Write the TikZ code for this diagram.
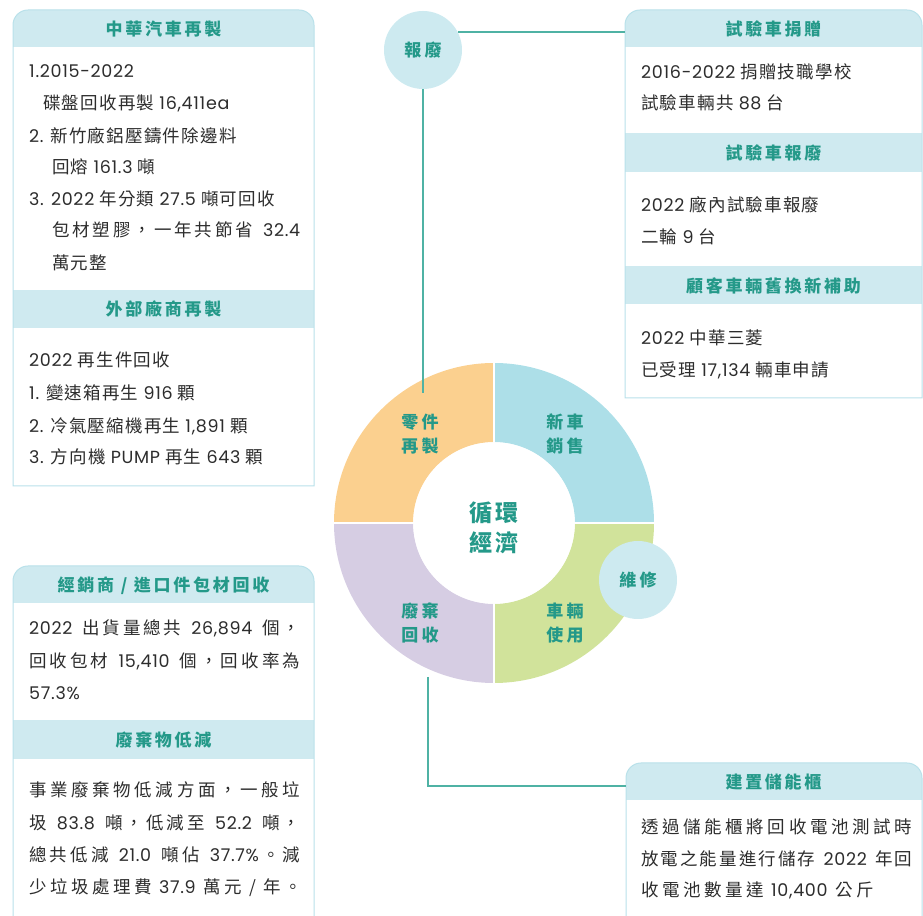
\documentclass[tikz,border=0pt]{standalone}
\usepackage{fontspec}
\setmainfont{Noto Sans CJK TC}
\newfontfamily\bodyfnt[LetterSpace=7]{Noto Sans CJK TC}
\newfontfamily\widefnt[LetterSpace=20]{Noto Sans CJK TC}
\newfontfamily\hdrfnt[LetterSpace=16]{Noto Sans CJK TC}
\newfontfamily\ringfnt[LetterSpace=18]{Noto Sans CJK TC}
\newfontfamily\centfnt[LetterSpace=15]{Noto Sans CJK TC}
\newfontfamily\latfnt[Scale=1.0,Numbers=Monospaced,LetterSpace=4]{Poppins}
\newcommand\lt[1]{{\latfnt #1}}
\newcommand\gap{\hskip 4pt}
% justified line: tokens separated by \hfil
\def\jline#1#2{\hbox to #1{\rmfamily\jA#2\relax}}
\def\jA#1{\ifx\relax#1\else#1\expandafter\jB\fi}
\def\jB#1{\ifx\relax#1\else\hfil#1\expandafter\jB\fi}
\definecolor{tealtxt}{RGB}{36,153,137}
\definecolor{bodytxt}{RGB}{45,45,45}
\definecolor{hdrfill}{RGB}{207,234,240}
\definecolor{boxline}{RGB}{185,225,234}
\definecolor{conn}{RGB}{79,178,164}
\definecolor{segorange}{RGB}{251,208,143}
\definecolor{segblue}{RGB}{173,223,232}
\definecolor{seggreen}{RGB}{209,227,155}
\definecolor{seglav}{RGB}{214,205,227}
\definecolor{circfill}{RGB}{205,234,240}
\tikzset{
  body/.style={anchor=west, inner sep=0pt, text=bodytxt, font={\bodyfnt\fontsize{17.5}{20}\selectfont}, text height=13.3pt, text depth=0pt},
  bodyw/.style={body, font={\widefnt\fontsize{17.5}{20}\selectfont}},
  hdr/.style={inner sep=0pt, text=tealtxt, font={\hdrfnt\bfseries\fontsize{17}{20}\selectfont}, text height=13pt, text depth=0pt},
  ringlbl/.style={inner sep=0pt, text=tealtxt, align=center, font={\ringfnt\bfseries\fontsize{17}{24}\selectfont}},
  centlbl/.style={inner sep=0pt, text=tealtxt, align=center, font={\centfnt\bfseries\fontsize{23}{30}\selectfont}},
  bubble/.style={circle, fill=circfill, minimum size=78pt, inner sep=0pt, text=tealtxt, font={\ringfnt\bfseries\fontsize{17}{20}\selectfont}},
  hdrband/.style={fill=hdrfill},
  boxedge/.style={draw=boxline, line width=1pt},
  connector/.style={draw=conn, line width=1.5pt},
  sep/.style={draw=white, line width=2.5pt}
}
\begin{document}
\begin{tikzpicture}[x=1pt,y=1pt]
\useasboundingbox (0,0) rectangle (923,915);
% ---------- donut ----------
\fill[segblue] (654,392) arc[start angle=0,end angle=90,radius=160] -- (494,473) arc[start angle=90,end angle=0,radius=81] -- cycle;
\fill[segorange] (494,552) arc[start angle=90,end angle=180,radius=160] -- (413,392) arc[start angle=180,end angle=90,radius=81] -- cycle;
\fill[seglav] (334,392) arc[start angle=180,end angle=270,radius=160] -- (494,311) arc[start angle=270,end angle=180,radius=81] -- cycle;
\fill[seggreen] (494,232) arc[start angle=270,end angle=360,radius=160] -- (575,392) arc[start angle=360,end angle=270,radius=81] -- cycle;
\draw[sep] (333,392) -- (655,392);
\draw[sep] (494,231) -- (494,553);
\fill[white] (494,392) circle[radius=80.5];
\node[centlbl] (center) at (494,387) {循環\\經濟};
\node[ringlbl] (parts) at (420,481) {零件\\再製};
\node[ringlbl] (sales) at (565,481) {新車\\銷售};
\node[ringlbl] (waste) at (420,292) {廢棄\\回收};
\node[ringlbl] (use) at (565,292) {車輛\\使用};
\node[bubble] (repair) at (638,335) {維修};
\node[bubble] (scrap) at (423,865) {報廢};
% ---------- top-left box ----------
\fill[white] (13,429) -- (13,890) arc[start angle=180,end angle=90,radius=15] -- (299,905) arc[start angle=90,end angle=0,radius=15] -- (314,429) -- cycle;
\fill[hdrband] (13,868) -- (13,890) arc[start angle=180,end angle=90,radius=15] -- (299,905) arc[start angle=90,end angle=0,radius=15] -- (314,868) -- cycle;
\fill[hdrband] (13,587) rectangle (314,625);
\draw[boxedge] (13,429) -- (13,890) arc[start angle=180,end angle=90,radius=15] -- (299,905) arc[start angle=90,end angle=0,radius=15] -- (314,429) -- cycle;
\node[hdr] (h1) at (163.5,886) {中華汽車再製};
\node[body] (t11) at (29,844) {\lt{1.2015-2022}};
\node[body] (t12) at (43,812) {碟盤回收再製 \lt{16,411ea}};
\node[body] (t13) at (29,779) {\lt{2.} 新竹廠鋁壓鑄件除邊料};
\node[body] (t14) at (52,748) {回熔 \lt{161.3} 噸};
\node[body] (t15) at (29,716) {\lt{3. 2022} 年分類 \lt{27.5} 噸可回收};
\node[body] (t16) at (52,685) {\jline{248pt}{包材塑膠，一年共節省\gap{\lt{32.4}}}};
\node[body] (t17) at (52,652) {萬元整};
\node[hdr] (h2) at (163.5,606) {外部廠商再製};
\node[body] (t21) at (29,555) {\lt{2022} 再生件回收};
\node[body] (t22) at (29,522) {\lt{1.} 變速箱再生 \lt{916} 顆};
\node[body] (t23) at (29,489) {\lt{2.} 冷氣壓縮機再生 \lt{1,891} 顆};
\node[body] (t24) at (29,458) {\lt{3.} 方向機 \lt{PUMP} 再生 \lt{643} 顆};
% ---------- bottom-left box ----------
\fill[white] (13,-5) -- (13,334) arc[start angle=180,end angle=90,radius=15] -- (299,349) arc[start angle=90,end angle=0,radius=15] -- (314,-5) -- cycle;
\fill[hdrband] (13,312) -- (13,334) arc[start angle=180,end angle=90,radius=15] -- (299,349) arc[start angle=90,end angle=0,radius=15] -- (314,312) -- cycle;
\fill[hdrband] (13,156) rectangle (314,195);
\draw[boxedge] (13,-5) -- (13,334) arc[start angle=180,end angle=90,radius=15] -- (299,349) arc[start angle=90,end angle=0,radius=15] -- (314,-5);
\node[hdr] (h3) at (163.5,330) {經銷商 / 進口件包材回收};
\node[body] (t31) at (29,287) {\jline{271pt}{{\lt{2022}}\gap 出貨量總共\gap{\lt{26,894}}\gap 個，}};
\node[body] (t32) at (29,254) {\jline{271pt}{回收包材\gap{\lt{15,410}}\gap 個，回收率為}};
\node[bodyw] (t33) at (29,222) {\lt{57.3\%}};
\node[hdr] (h4) at (163.5,175) {廢棄物低減};
\node[body] (t41) at (29,125) {\jline{271pt}{事業廢棄物低減方面，一般垃}};
\node[body] (t42) at (29,92) {\jline{271pt}{圾\gap{\lt{83.8}}\gap 噸，低減至\gap{\lt{52.2}}\gap 噸，}};
\node[body] (t43) at (29,60) {\jline{271pt}{總共低減\gap{\lt{21.0}}\gap 噸佔\gap{\lt{37.7\%}}。減}};
\node[bodyw] (t44) at (29,28) {少垃圾處理費 \lt{37.9} 萬元 / 年。};
% ---------- top-right box ----------
\fill[white] (625,517) -- (625,890) arc[start angle=180,end angle=90,radius=15] -- (907,905) arc[start angle=90,end angle=0,radius=15] -- (922,517) -- cycle;
\fill[hdrband] (625,868) -- (625,890) arc[start angle=180,end angle=90,radius=15] -- (907,905) arc[start angle=90,end angle=0,radius=15] -- (922,868) -- cycle;
\fill[hdrband] (625,743) rectangle (922,782);
\fill[hdrband] (625,611) rectangle (922,649);
\draw[boxedge] (625,517) -- (625,890) arc[start angle=180,end angle=90,radius=15] -- (907,905) arc[start angle=90,end angle=0,radius=15] -- (922,517) -- cycle;
\node[hdr] (h5) at (773.5,886) {試驗車捐贈};
\node[body] (t51) at (641,843) {\lt{2016-2022} 捐贈技職學校};
\node[body] (t52) at (641,812) {試驗車輛共 \lt{88} 台};
\node[hdr] (h6) at (773.5,762) {試驗車報廢};
\node[body] (t61) at (641,710) {\lt{2022} 廠內試驗車報廢};
\node[body] (t62) at (641,678) {二輪 \lt{9} 台};
\node[hdr] (h7) at (773.5,629) {顧客車輛舊換新補助};
\node[body] (t71) at (641,577) {\lt{2022} 中華三菱};
\node[body] (t72) at (641,545) {已受理 \lt{17,134} 輛車申請};
% ---------- bottom-right box ----------
\fill[white] (626,-5) -- (626,137) arc[start angle=180,end angle=90,radius=15] -- (907,152) arc[start angle=90,end angle=0,radius=15] -- (922,-5) -- cycle;
\fill[hdrband] (626,115) -- (626,137) arc[start angle=180,end angle=90,radius=15] -- (907,152) arc[start angle=90,end angle=0,radius=15] -- (922,115) -- cycle;
\draw[boxedge] (626,-5) -- (626,137) arc[start angle=180,end angle=90,radius=15] -- (907,152) arc[start angle=90,end angle=0,radius=15] -- (922,-5);
\node[hdr] (h8) at (773.5,133) {建置儲能櫃};
\node[body] (t81) at (641,88) {\jline{271pt}{透過儲能櫃將回收電池測試時}};
\node[body] (t82) at (641,56) {\jline{271pt}{放電之能量進行儲存\gap{\lt{2022}}\gap 年回}};
\node[bodyw] (t83) at (641,25) {收電池數量達 \lt{10,400} 公斤};
% ---------- connectors ----------
\coordinate (trbox) at (625,883);
\coordinate (ringtop) at (423,522);
\coordinate (ringbot) at (428,238);
\coordinate (brbox) at (626,129);
\draw[connector] (scrap.27.5) -- (scrap.27.5 -| trbox);
\draw[connector] (scrap.south) -- (ringtop);
\draw[connector] (ringbot) |- (brbox);
\end{tikzpicture}
\end{document}
